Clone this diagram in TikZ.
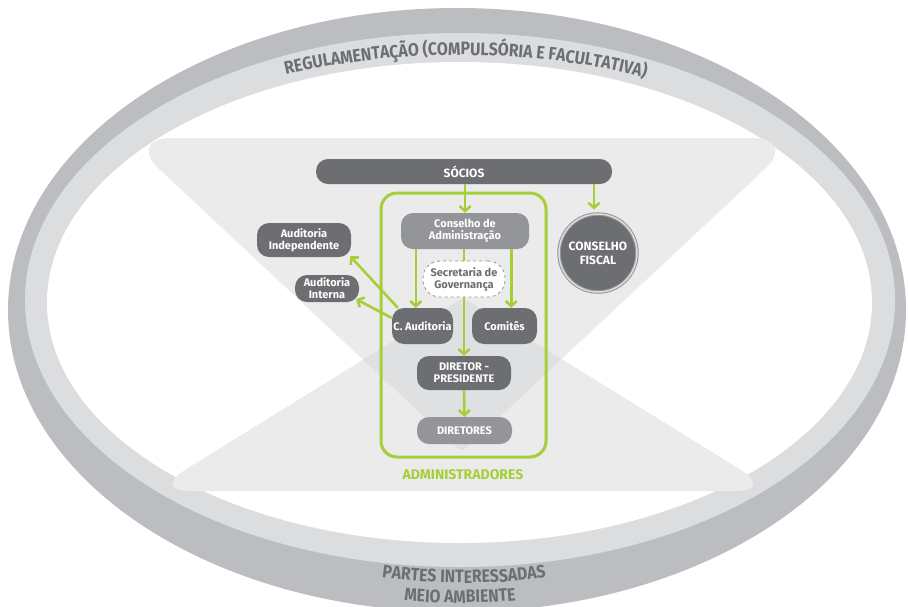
\documentclass[tikz,border=0pt]{standalone}
\usepackage{fontspec}
\setmainfont{Fira Sans}
\newfontfamily\ringfont[FakeStretch=0.88]{Fira Sans}
\usetikzlibrary{arrows.meta,decorations.text,calc}
\definecolor{ringdark}{HTML}{BCBDC0}
\definecolor{ringlight}{HTML}{DCDDDF}
\definecolor{hg}{HTML}{EBEBEC}
\definecolor{hgover}{HTML}{DFE0E1}
\definecolor{nodedark}{HTML}{6D6E71}
\definecolor{nodemid}{HTML}{939598}
\definecolor{lime}{HTML}{A6CE39}
\definecolor{txtgrey}{HTML}{6D6E71}
\newcommand\ringfmt{\ringfont\bfseries\fontsize{18}{18}\selectfont\color{txtgrey}}
\begin{document}
\begin{tikzpicture}[x=1pt,y=-1pt,
  box/.style={rounded corners=12pt, fill=nodedark, text=white, font=\bfseries\fontsize{11}{12}\selectfont, align=center, inner sep=0pt},
  midbox/.style={box, fill=nodemid},
  secbox/.style={rounded corners=17pt, fill=white, draw=nodemid, dashed, line width=0.8pt, text=txtgrey, font=\bfseries\fontsize{11}{12}\selectfont, align=center, inner sep=0pt},
  frame/.style={draw=lime, line width=3pt, rounded corners=16pt, inner sep=0pt},
  lbl/.style={text=lime, font=\bfseries\fontsize{14}{15}\selectfont, inner sep=0pt},
  arr/.style={draw=lime, line width=2.6pt, -{Straight Barb[length=5pt,width=11pt]}},
  fiscal/.style={circle, fill=nodedark, draw=nodemid, line width=1pt, double=ringlight, double distance=1.5pt, inner sep=0pt, text=white, font=\bfseries\fontsize{12}{14}\selectfont, align=center}
]
\useasboundingbox (0,0) rectangle (908,606);
\clip (0,0) rectangle (908,606);
% rings
\fill[ringdark] (457,310) ellipse [x radius=449pt, y radius=302pt];
\fill[ringlight] (460,300) ellipse [x radius=435pt, y radius=267pt];
\fill[white] (459.5,302.5) ellipse [x radius=412.5pt, y radius=240.5pt];
% hourglass
\fill[hg, rounded corners=46pt] (462,138) -- (798,138) -- (506,411) .. controls (462,452) .. (418,411) -- (126,138) -- cycle;
\fill[hg, rounded corners=40pt] (463,491) -- (775,491) -- (505.5,324.3) .. controls (463,298) .. (420.5,324.3) -- (151,491) -- cycle;
\begin{scope}
\clip[rounded corners=46pt] (462,138) -- (798,138) -- (506,411) .. controls (462,452) .. (418,411) -- (126,138) -- cycle;
\fill[hgover, rounded corners=40pt] (463,491) -- (775,491) -- (505.5,324.3) .. controls (463,298) .. (420.5,324.3) -- (151,491) -- cycle;
\end{scope}
% ring texts
\path[decorate, decoration={text along path, text align=center, text={|\ringfmt|REGULAMENTAÇÃO (COMPULSÓRIA E FACULTATIVA)}}]
  ($(460,310)+(143:450pt and 255pt)$) arc[start angle=143, end angle=35, x radius=450pt, y radius=255pt];
\path[decorate, decoration={text along path, text align=center, text={|\ringfmt|PARTES INTERESSADAS}}]
  ($(464,310)+(240:420pt and 273pt)$) arc[start angle=240, end angle=300, x radius=420pt, y radius=273pt];
\path[decorate, decoration={text along path, text align=center, text={|\ringfmt|MEIO AMBIENTE}}]
  ($(460,310)+(240:440pt and 293pt)$) arc[start angle=240, end angle=300, x radius=440pt, y radius=293pt];
% frame
\node[frame, minimum width=165pt, minimum height=264pt] (adm) at (463.5,325) {};
\node[lbl] (admlbl) at (463,475) {ADMINISTRADORES};
% nodes
\node[box, minimum width=296pt, minimum height=25pt, font=\bfseries\fontsize{12}{13}\selectfont] (soc) at (464,171.5) {SÓCIOS};
\node[midbox, minimum width=128pt, minimum height=36pt] (cons) at (465,231) {Conselho de\\Administração};
\node[box, minimum width=61pt, minimum height=36pt] (caud) at (422.5,326) {C. Auditoria};
\node[box, minimum width=65pt, minimum height=36pt] (com) at (504.5,326) {Comitês};
\node[box, minimum width=94pt, minimum height=34pt] (aind) at (304,240) {Auditoria\\Independente};
\node[box, minimum width=64pt, minimum height=27pt, rounded corners=12pt] (aint) at (327,288.5) {Auditoria\\Interna};
\node[box, minimum width=94pt, minimum height=34pt] (dp) at (464,373) {DIRETOR -\\PRESIDENTE};
\node[midbox, minimum width=95pt, minimum height=27pt] (dir) at (464.5,430.5) {DIRETORES};
\node[fiscal, minimum size=78pt] (cf) at (598,253) {CONSELHO\\FISCAL};
% connectors
\draw[arr] (soc.south -| cons.north) -- (cons.north);
\draw[arr, shorten >=4pt] (soc.south -| 594,0) -- (cf.north -| 594,0);
\draw[arr] ([xshift=15pt]cons.south west) -- ([xshift=15pt]cons.south west |- caud.north);
\draw[arr] ([xshift=-18pt]cons.south east) -- ([xshift=-18pt]cons.south east |- com.north);
\draw[arr] (cons.south -| dp.north) -- (dp.north);
\draw[arr] (dp.south) -- (dir.north);
\draw[arr] ([xshift=6pt]caud.north west) -- ([shift={(-1pt,1pt)}]aind.south east);
\draw[arr] ([yshift=8pt]caud.west) -- ([shift={(-3pt,3pt)}]aint.south east);
\node[secbox, minimum width=82pt, minimum height=36pt] (sec) at (464,279) {Secretaria de\\Governança};
\end{tikzpicture}
\end{document}
